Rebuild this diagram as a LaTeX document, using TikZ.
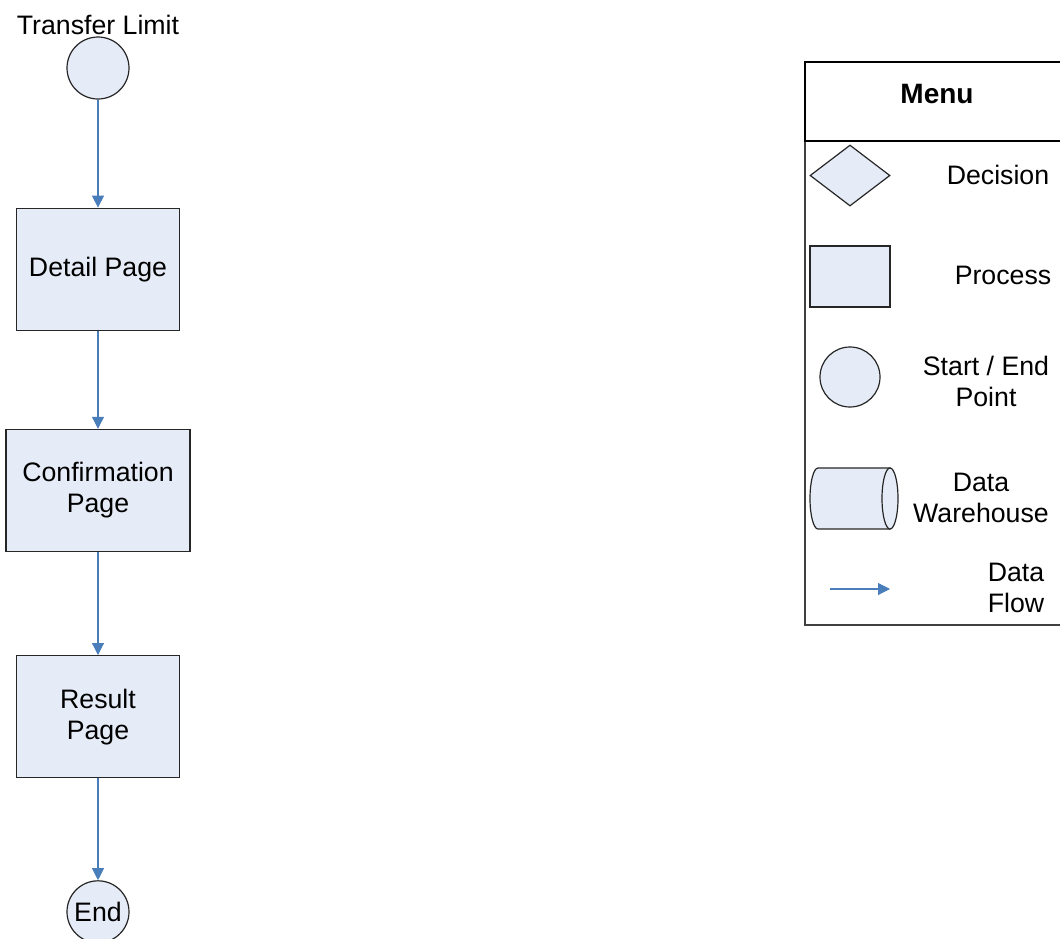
\documentclass[tikz,border=0pt]{standalone}
\usepackage{fontspec}
\setmainfont{Liberation Sans}
\usetikzlibrary{positioning,shapes.geometric,arrows.meta}
\definecolor{shapefill}{HTML}{E6ECF7}
\definecolor{flowblue}{HTML}{4A7EBB}

\begin{document}
\begin{tikzpicture}[x=1pt,y=-1pt,
        font=\fontsize{26.7}{31}\selectfont,
        box/.style={draw=black!85,line width=1.2pt,fill=shapefill,inner sep=0pt,align=center},
        proc/.style={box,rectangle,minimum width=163pt,minimum height=122pt},
        term/.style={box,circle,minimum size=62pt},
        flow/.style={draw=flowblue,line width=1.1pt,-{Triangle[length=12pt,width=12pt]}},
        legtext/.style={inner sep=0pt,align=center}]
        \clip (0,0) rectangle (1060,938);
        % flow chart
        \node[term] (start) at (98,68) {};
        \node[inner sep=0pt,above=1.5pt of start] (title) {Transfer Limit};
        \node[proc,below=108pt of start] (detail) {Detail Page};
        \node[proc,minimum width=184pt,below=98pt of detail] (confirm) {Confirmation\\Page};
        \node[proc,below=103pt of confirm] (result) {Result\\Page};
        \node[term,below=102pt of result] (finish) {End};
        \draw[flow] (start) -- (detail);
        \draw[flow] (detail) -- (confirm);
        \draw[flow] (confirm) -- (result);
        \draw[flow] (result) -- (finish);
        % menu
        \draw[draw=black!75,line width=1.5pt] (805,141) rectangle (1075,625);
        \draw[line width=2pt] (805,62) rectangle (1075,141);
        \node[font=\fontsize{28}{32}\selectfont\bfseries] (menu) at (937,94) {Menu};
        \node[box,diamond,minimum width=80pt,minimum height=61pt] (decision) at (850,175.5) {};
        \node[legtext] (decisiontext) at (998,175) {Decision};
        \node[box,rectangle,minimum width=80pt,minimum height=61pt] (process) at (850,276.5) {};
        \node[legtext] (processtext) at (1003,275) {Process};
        \node[term,minimum size=60pt] (point) at (850,377) {};
        \node[legtext] (pointtext) at (986,381) {Start / End\\Point};
        % data warehouse drum
        \path[box] (818,468) -- (890,468) -- (890,529) -- (818,529)
            arc[start angle=270,end angle=90,x radius=8pt,y radius=30.5pt] -- cycle;
        \path[box] (890,498.5) ellipse[x radius=8pt,y radius=30.5pt];
        \node[legtext] (warehousetext) at (981,498) {Data\\Warehouse};
        \coordinate (flowa) at (830,589);
        \coordinate (flowb) at (890,589);
        \draw[flow] (flowa) -- (flowb);
        \node[legtext] (flowtext) at (1016,588) {Data\\Flow};
    \end{tikzpicture}
\end{document}
